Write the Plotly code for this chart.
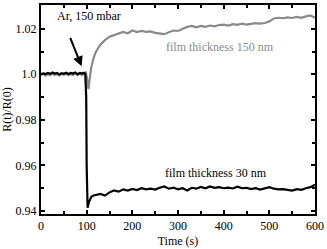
import plotly.graph_objects as go

# 30 nm film (black)
t_30 = [0, 5, 10, 15, 20, 25, 30, 35, 40, 45, 50, 55, 60, 65, 70, 75, 80, 85, 90, 94,
        97, 99, 100, 102, 105, 110, 115, 120,
        130, 140, 150, 160, 170, 180, 190, 200, 210, 220, 230, 240, 250, 260, 270, 280,
        290, 300, 310, 320, 330, 340, 350, 360, 370, 380, 390, 400, 410, 420, 430, 440,
        450, 460, 470, 480, 490, 500, 510, 520, 530, 540, 550, 560, 570, 580, 590, 600]
r_30 = [1.0000, 1.0004, 1.0001, 1.0006, 1.0002, 1.0008, 1.0003, 1.0006, 0.9999, 1.0005,
        1.0002, 1.0007, 1.0001, 1.0006, 1.0003, 1.0008, 1.0000, 1.0006, 1.0003, 1.0007,
        1.0002, 0.9900, 0.9600, 0.9415, 0.9440, 0.9462, 0.9468, 0.9470,
        0.9475, 0.9468, 0.9482, 0.9490, 0.9485, 0.9495, 0.9490, 0.9497, 0.9492, 0.9500,
        0.9495, 0.9498, 0.9494, 0.9502, 0.9508, 0.9498, 0.9503, 0.9495, 0.9500, 0.9490,
        0.9502, 0.9498, 0.9506, 0.9500, 0.9508, 0.9502, 0.9505, 0.9500, 0.9503, 0.9499,
        0.9507, 0.9500, 0.9502, 0.9496, 0.9500, 0.9494, 0.9498, 0.9505, 0.9498, 0.9495,
        0.9496, 0.9494, 0.9490, 0.9496, 0.9493, 0.9500, 0.9505, 0.9515]

# 150 nm film (gray)
t_150 = [0, 5, 10, 15, 20, 25, 30, 35, 40, 45, 50, 55, 60, 65, 70, 75, 80, 85, 90, 95,
         98, 100, 102, 104, 106, 110, 115,
         120, 130, 140, 150, 160, 170, 180, 190, 200, 210, 220, 230, 240, 250, 260, 270,
         280, 290, 300, 310, 320, 330, 340, 350, 360, 370, 380, 390, 400, 410, 420, 430,
         440, 450, 460, 470, 480, 490, 500, 510, 520, 530, 540, 550, 560, 570, 580, 590, 600]
r_150 = [0.9998, 1.0002, 0.9994, 1.0001, 0.9996, 1.0003, 0.9997, 1.0001, 0.9995, 1.0002,
         0.9998, 1.0003, 0.9996, 1.0001, 0.9997, 1.0004, 0.9998, 1.0002, 0.9997, 1.0004,
         1.0008, 0.9990, 0.9945, 0.9935, 0.9970, 1.0030, 1.0070,
         1.0098, 1.0130, 1.0150, 1.0165, 1.0172, 1.0182, 1.0186, 1.0180, 1.0192, 1.0185,
         1.0190, 1.0186, 1.0188, 1.0182, 1.0180, 1.0176, 1.0184, 1.0192, 1.0190, 1.0200,
         1.0208, 1.0212, 1.0206, 1.0212, 1.0208, 1.0214, 1.0210, 1.0216, 1.0218, 1.0214,
         1.0220, 1.0217, 1.0222, 1.0218, 1.0220, 1.0224, 1.0222, 1.0225, 1.0232, 1.0245,
         1.0248, 1.0246, 1.0250, 1.0247, 1.0252, 1.0248, 1.0254, 1.0258, 1.0248]

x_ticks = [0, 100, 200, 300, 400, 500, 600]
y_ticks = [0.94, 0.96, 0.98, 1.0, 1.02]
y_tick_labels = ["0.94", "0.96", "0.98", "1.0", "1.02"]

FONT = "'Liberation Serif', 'Times New Roman', Times, 'DejaVu Serif', serif"

fig = go.Figure()
fig.add_trace(go.Scatter(x=t_150, y=r_150, mode="lines",
                         line=dict(color="#8a8a8a", width=2.2), showlegend=False))
fig.add_trace(go.Scatter(x=t_30, y=r_30, mode="lines",
                         line=dict(color="black", width=2.2), showlegend=False))

fig.add_annotation(x=89, y=1.0035, ax=-12, ay=-30, axref="pixel", ayref="pixel",
                   xref="x", yref="y", showarrow=True, arrowhead=2, arrowsize=1,
                   arrowwidth=2, arrowcolor="black", text="")
fig.add_annotation(x=0.05, y=1.0255, xref="x domain", yref="y", text="Ar, 150 mbar",
                   showarrow=False, font=dict(family=FONT, size=12, color="black"),
                   xanchor="left")
fig.add_annotation(x=391, y=1.0121, xref="x", yref="y", text="film thickness 150 nm",
                   showarrow=False, font=dict(family=FONT, size=12, color="#8a8a8a"))
fig.add_annotation(x=383, y=0.9568, xref="x", yref="y", text="film thickness 30 nm",
                   showarrow=False, font=dict(family=FONT, size=12, color="black"))

fig.update_xaxes(range=[0, 600], tickvals=x_ticks, ticks="inside", ticklen=4,
                 tickwidth=1.5, tickcolor="black", showline=True, linewidth=2,
                 linecolor="black", mirror="ticks", showgrid=False, zeroline=False,
                 minor=dict(dtick=50, ticks="inside", ticklen=3, tickcolor="black"),
                 title=dict(text="Time (s)", standoff=4,
                            font=dict(family=FONT, size=12, color="black")),
                 tickfont=dict(family=FONT, size=12, color="black"))
fig.update_yaxes(range=[0.9387, 1.0304], tickvals=y_ticks, ticktext=y_tick_labels,
                 ticks="inside", ticklen=4, tickwidth=1.5, tickcolor="black",
                 showline=True, linewidth=2, linecolor="black", mirror="ticks",
                 showgrid=False, zeroline=False,
                 minor=dict(dtick=0.01, tick0=0.94, ticks="inside", ticklen=3,
                            tickcolor="black"),
                 title=dict(text="R(t)/R(0)", standoff=2,
                            font=dict(family=FONT, size=12, color="black")),
                 tickfont=dict(family=FONT, size=12, color="black"))

fig.update_layout(width=327, height=249, margin=dict(l=41, r=10, t=3, b=34),
                  plot_bgcolor="white", paper_bgcolor="white",
                  font=dict(family=FONT, size=12, color="black"))

fig.write_html("out.html", config={"displayModeBar": False},
               post_script="document.body.style.margin='0';")
